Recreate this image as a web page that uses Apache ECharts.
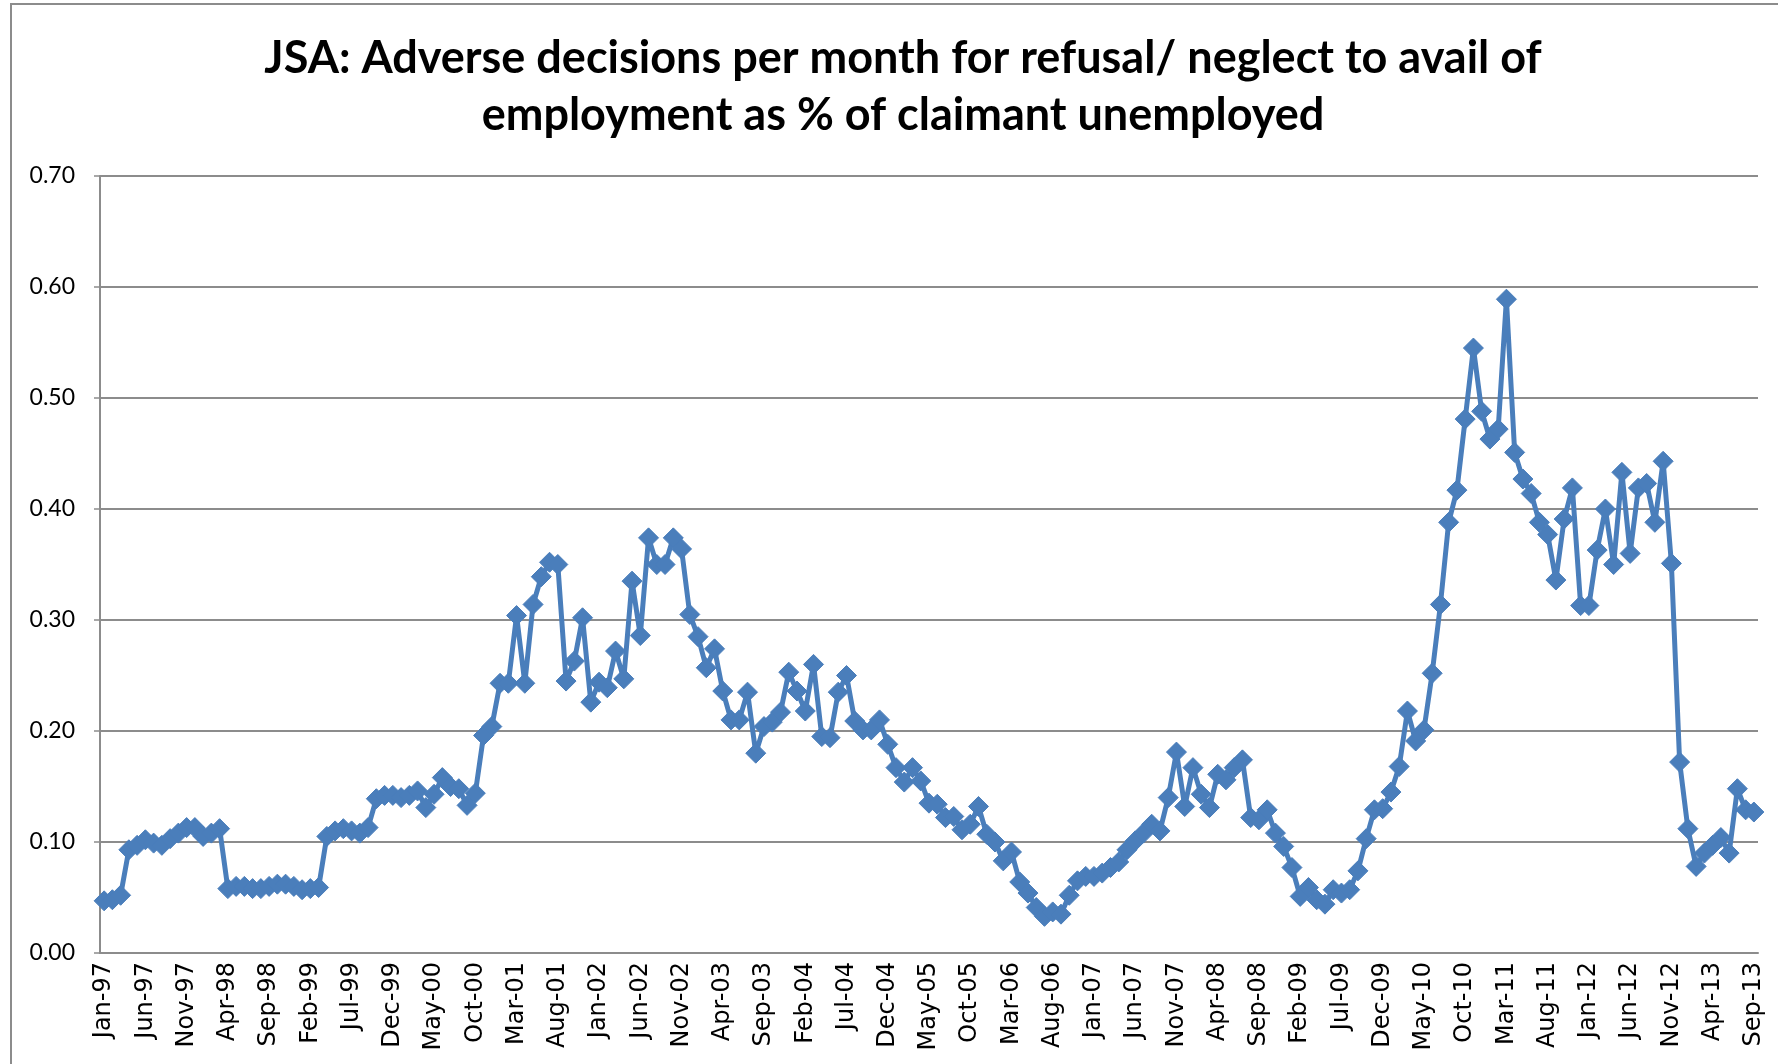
<!DOCTYPE html>
<html>
<head>
<meta charset="utf-8">
<title>JSA adverse decisions</title>
<script src="https://cdn.jsdelivr.net/npm/echarts@6/dist/echarts.min.js"></script>
<style>
  html, body { margin: 0; padding: 0; background: #fff; }
  #chart { width: 1778px; height: 1064px; }
</style>
</head>
<body>
<div id="chart"></div>
<script>
// month names and years for the category labels
var monthNames = ['Jan', 'Feb', 'Mar', 'Apr', 'May', 'Jun', 'Jul', 'Aug', 'Sep', 'Oct', 'Nov', 'Dec'];
var yearLabels = ['97', '98', '99', '00', '01', '02', '03', '04', '05', '06', '07', '08', '09', '10', '11', '12', '13'];

// values, one array per year (% of claimant unemployed)
var y1997 = [0.047, 0.048, 0.052, 0.093, 0.097, 0.102, 0.099, 0.097, 0.103, 0.108, 0.113, 0.113];
var y1998 = [0.105, 0.108, 0.112, 0.058, 0.060, 0.060, 0.058, 0.058, 0.060, 0.062, 0.062, 0.060];
var y1999 = [0.057, 0.058, 0.059, 0.105, 0.110, 0.112, 0.110, 0.108, 0.113, 0.139, 0.142, 0.142];
var y2000 = [0.140, 0.142, 0.146, 0.131, 0.143, 0.158, 0.150, 0.148, 0.133, 0.144, 0.196, 0.204];
var y2001 = [0.243, 0.243, 0.304, 0.243, 0.314, 0.339, 0.352, 0.350, 0.245, 0.263, 0.302, 0.226];
var y2002 = [0.244, 0.239, 0.272, 0.247, 0.335, 0.286, 0.374, 0.350, 0.350, 0.374, 0.364, 0.305];
var y2003 = [0.285, 0.257, 0.274, 0.236, 0.210, 0.210, 0.235, 0.180, 0.204, 0.208, 0.217, 0.253];
var y2004 = [0.236, 0.218, 0.260, 0.195, 0.194, 0.235, 0.250, 0.209, 0.201, 0.201, 0.210, 0.188];
var y2005 = [0.167, 0.154, 0.167, 0.155, 0.135, 0.134, 0.122, 0.123, 0.111, 0.116, 0.132, 0.107];
var y2006 = [0.100, 0.083, 0.091, 0.064, 0.054, 0.041, 0.033, 0.037, 0.035, 0.052, 0.065, 0.069];
var y2007 = [0.069, 0.072, 0.077, 0.082, 0.093, 0.101, 0.108, 0.116, 0.110, 0.140, 0.181, 0.132];
var y2008 = [0.167, 0.143, 0.131, 0.161, 0.156, 0.167, 0.174, 0.122, 0.120, 0.129, 0.108, 0.096];
var y2009 = [0.077, 0.051, 0.059, 0.048, 0.044, 0.057, 0.054, 0.057, 0.074, 0.103, 0.129, 0.130];
var y2010 = [0.145, 0.168, 0.218, 0.191, 0.201, 0.252, 0.314, 0.388, 0.417, 0.481, 0.545, 0.488];
var y2011 = [0.463, 0.472, 0.589, 0.451, 0.427, 0.414, 0.388, 0.377, 0.336, 0.391, 0.419, 0.313];
var y2012 = [0.313, 0.363, 0.400, 0.350, 0.433, 0.360, 0.419, 0.423, 0.388, 0.443, 0.351, 0.172];
var y2013 = [0.112, 0.078, 0.090, 0.097, 0.104, 0.090, 0.148, 0.129, 0.127]; // Jan-Sep

var values = [].concat(y1997, y1998, y1999, y2000, y2001, y2002, y2003, y2004, y2005,
                       y2006, y2007, y2008, y2009, y2010, y2011, y2012, y2013);

// Jan-97 ... Sep-13
var categories = [];
for (var i = 0; i < values.length; i++) {
  categories.push(monthNames[i % 12] + '-' + yearLabels[Math.floor(i / 12)]);
}

var chart = echarts.init(document.getElementById('chart'));
chart.setOption({
  animation: false,
  backgroundColor: '#fff',
  title: {
    text: 'JSA: Adverse decisions per month for refusal/ neglect to avail of\nemployment as % of claimant unemployed',
    left: 898,
    textAlign: 'center',
    top: 25,
    textStyle: {
      fontFamily: 'Lato',
      fontWeight: 'bold',
      fontSize: 45,
      lineHeight: 57,
      color: '#000'
    }
  },
  // outer frame of the chart area
  graphic: [{
    type: 'rect',
    shape: { x: 11, y: 4, width: 1800, height: 1100 },
    style: { fill: 'none', stroke: '#8c8c8c', lineWidth: 2 },
    silent: true
  }],
  grid: { left: 100, right: 20, top: 176, bottom: 111 },
  xAxis: {
    type: 'category',
    data: categories,
    boundaryGap: true,
    axisLine: { lineStyle: { color: '#8c8c8c', width: 2 } },
    axisTick: { interval: 4, length: 6, lineStyle: { color: '#8c8c8c', width: 1.5 } },
    axisLabel: {
      interval: 4,
      rotate: 90,
      margin: 9,
      fontFamily: 'DejaVu Sans',
      fontSize: 24,
      color: '#000'
    },
    splitLine: { show: false }
  },
  yAxis: {
    type: 'value',
    min: 0,
    max: 0.7,
    interval: 0.1,
    axisLine: { show: true, lineStyle: { color: '#8c8c8c', width: 2 } },
    axisTick: { show: true, length: 6, lineStyle: { color: '#8c8c8c', width: 1.5 } },
    axisLabel: {
      formatter: function (v) { return v.toFixed(2); },
      margin: 25,
      fontFamily: 'Lato',
      fontSize: 23,
      color: '#000'
    },
    splitLine: { lineStyle: { color: '#8c8c8c', width: 2 } }
  },
  series: [{
    type: 'line',
    data: values,
    symbol: 'diamond',
    symbolSize: 20,
    showAllSymbol: true,
    lineStyle: { color: '#4a7ebb', width: 5 },
    itemStyle: { color: '#4a7ebb', borderColor: '#4a7ebb', borderWidth: 1 }
  }]
});
</script>
</body>
</html>
